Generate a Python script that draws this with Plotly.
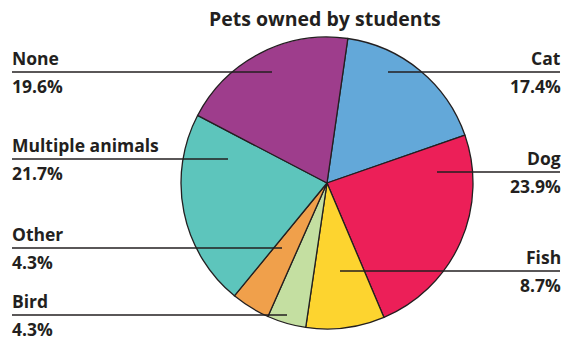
import plotly.graph_objects as go

# Pet categories, in clockwise order starting just right of 12 o'clock
categories = ["Cat", "Dog", "Fish", "Bird", "Other", "Multiple animals", "None"]
shares = [17.4, 23.9, 8.7, 4.3, 4.3, 21.7, 19.6]
colors = ["#63A8D9", "#EC1F58", "#FDD42F", "#C4DFA1", "#F0A04B", "#5DC5BC", "#9E3D8C"]

W, H = 566, 340
INK = "#231F20"
FONT = "Open Sans"

# Callout layout (pixel units): label side, line y, line span
callouts = {
    "None":             ("left", 72, 12, 272),
    "Cat":              ("right", 72, 388, 560),
    "Multiple animals": ("left", 159, 12, 228),
    "Dog":              ("right", 172, 437, 560),
    "Other":            ("left", 248, 12, 282),
    "Fish":             ("right", 271, 340, 560),
    "Bird":             ("left", 315, 12, 287),
}

cx, cy, r = 327, 183, 146  # pie centre and radius in pixels


def px(x):
    return x / W


def py(y):
    return 1 - y / H


fig = go.Figure(
    go.Pie(
        labels=categories,
        values=shares,
        marker=dict(colors=colors, line=dict(color=INK, width=1.3)),
        sort=False,
        direction="clockwise",
        rotation=8.2,
        textinfo="none",
        hoverinfo="skip",
        showlegend=False,
        domain=dict(x=[px(cx - r), px(cx + r)], y=[py(cy + r), py(cy - r)]),
    )
)

shapes = []
annotations = []
for name, value in zip(categories, shares):
    side, ly, x0, x1 = callouts[name]
    shapes.append(dict(type="line", xref="paper", yref="paper",
                       x0=px(x0), x1=px(x1), y0=py(ly), y1=py(ly),
                       line=dict(color=INK, width=1.3)))
    ax = px(11) if side == "left" else px(562)
    anchor = "left" if side == "left" else "right"
    annotations.append(dict(text=f"<b>{name}</b>", x=ax, y=py(ly - 1),
                            xref="paper", yref="paper", xanchor=anchor,
                            yanchor="bottom", showarrow=False,
                            font=dict(family=FONT, size=17.5, color=INK),
                            borderpad=0))
    annotations.append(dict(text=f"<b>{value}%</b>", x=ax, y=py(ly + 1),
                            xref="paper", yref="paper", xanchor=anchor,
                            yanchor="top", showarrow=False,
                            font=dict(family=FONT, size=17.5, color=INK),
                            borderpad=0))

annotations.append(dict(text="<b>Pets owned by students</b>", x=px(325), y=py(18),
                        xref="paper", yref="paper", xanchor="center",
                        yanchor="middle", showarrow=False,
                        font=dict(family=FONT, size=19.5, color=INK)))

fig.update_layout(
    width=W, height=H,
    margin=dict(l=0, r=0, t=0, b=0),
    paper_bgcolor="white",
    plot_bgcolor="white",
    shapes=shapes,
    annotations=annotations,
)

fig.write_html("out.html")
